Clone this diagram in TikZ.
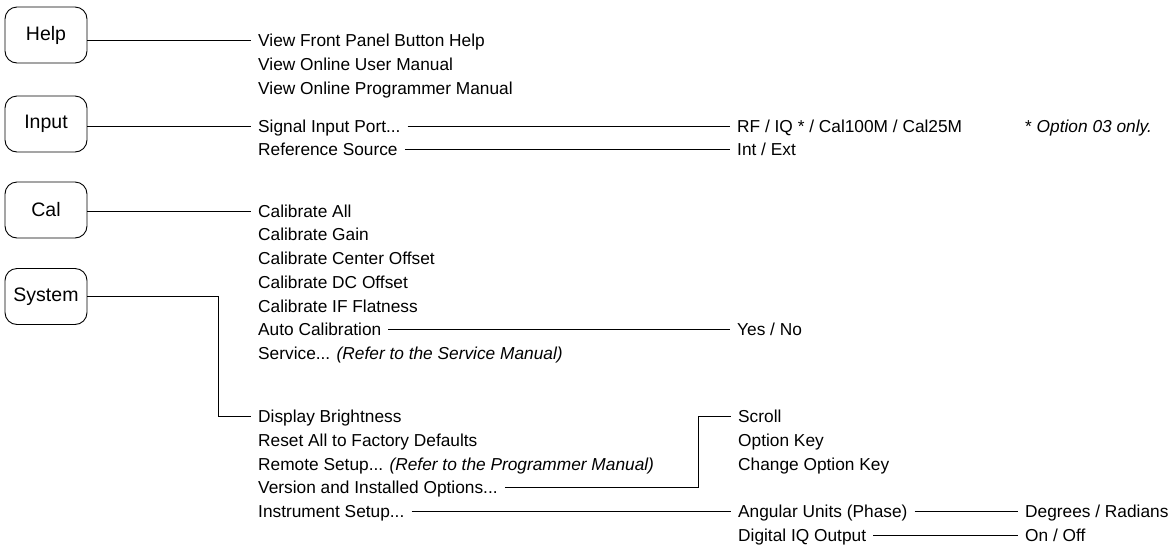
\documentclass[tikz,border=0pt]{standalone}
\usepackage{fontspec}
\setmainfont{Liberation Sans}

\tikzset{
  menukey/.style={draw, line width=0.9pt, rounded corners=12pt, minimum width=82pt, minimum height=56pt, inner sep=0pt, font=\fontsize{19.5}{22}\selectfont},
  entry/.style={anchor=west, inner xsep=7pt, inner ysep=0pt, text height=12.4pt, text depth=0pt, font=\fontsize{17.3}{20}\selectfont},
  link/.style={line width=0.9pt},
}

\begin{document}
\begin{tikzpicture}[x=1pt,y=-1pt]
\useasboundingbox (0,0) rectangle (1176,555);

% Front panel keys
\node[menukey] (help) at (46,35) {Help};
\node[menukey] (input) at (46,124) {Input};
\node[menukey] (cal) at (46,210) {Cal};
\node[menukey] (system) at (46,296.5) {System};

% Help menu
\node[entry] (vfp) at (251,40.5) {View Front Panel Button Help};
\node[entry] (vum) at (251,64.25) {View Online User Manual};
\node[entry] (vpm) at (251,88) {View Online Programmer Manual};

% Input menu
\node[entry] (sip) at (251,126) {Signal Input Port...};
\node[entry] (refsrc) at (251,149.75) {Reference Source};
\node[entry] (portsel) at (730,126) {RF / IQ * / Cal100M / Cal25M};
\node[entry] (refsel) at (730,149.75) {Int / Ext};
\node[entry] (optnote) at (1018,126) {* \textit{Option 03 only.}};

% Cal menu
\node[entry] (calall) at (251,211) {Calibrate All};
\node[entry] (calgain) at (251,234.75) {Calibrate Gain};
\node[entry] (calctr) at (251,258.5) {Calibrate Center Offset};
\node[entry] (caldc) at (251,282.25) {Calibrate DC Offset};
\node[entry] (calif) at (251,306) {Calibrate IF Flatness};
\node[entry] (autocal) at (251,329.75) {Auto Calibration};
\node[entry] (service) at (251,353.5) {Service... \textit{(Refer to the Service Manual)}};
\node[entry] (autosel) at (730,329.75) {Yes / No};

% System menu
\node[entry] (display) at (251,416.5) {Display Brightness};
\node[entry] (reset) at (251,440.25) {Reset All to Factory Defaults};
\node[entry] (remote) at (251,464) {Remote Setup... \textit{(Refer to the Programmer Manual)}};
\node[entry] (version) at (251,487.75) {Version and Installed Options...};
\node[entry] (instr) at (251,511.5) {Instrument Setup...};

% Submenus of System
\node[entry] (scroll) at (731,416.5) {Scroll};
\node[entry] (optkey) at (731,440.25) {Option Key};
\node[entry] (chgkey) at (731,464) {Change Option Key};
\node[entry] (angular) at (731,511.5) {Angular Units (Phase)};
\node[entry] (digiq) at (731,535.25) {Digital IQ Output};
\node[entry] (degrad) at (1018,511.5) {Degrees / Radians};
\node[entry] (onoff) at (1018,535.25) {On / Off};

% Connectors
\draw[link] (help.east |- vfp.west) -- (vfp.west);
\draw[link] (input.east |- sip.west) -- (sip.west);
\draw[link] (sip.east) -- (portsel.west);
\draw[link] (refsrc.east) -- (refsel.west);
\draw[link] (cal.east |- calall.west) -- (calall.west);
\draw[link] (autocal.east) -- (autosel.west);
\draw[link] (system.east) -| ([xshift=-33pt]display.west) -- (display.west);
\draw[link] (version.east) -| ([xshift=-33pt]scroll.west) -- (scroll.west);
\draw[link] (instr.east) -- (angular.west);
\draw[link] (angular.east) -- (degrad.west);
\draw[link] (digiq.east) -- (onoff.west);
\end{tikzpicture}
\end{document}
